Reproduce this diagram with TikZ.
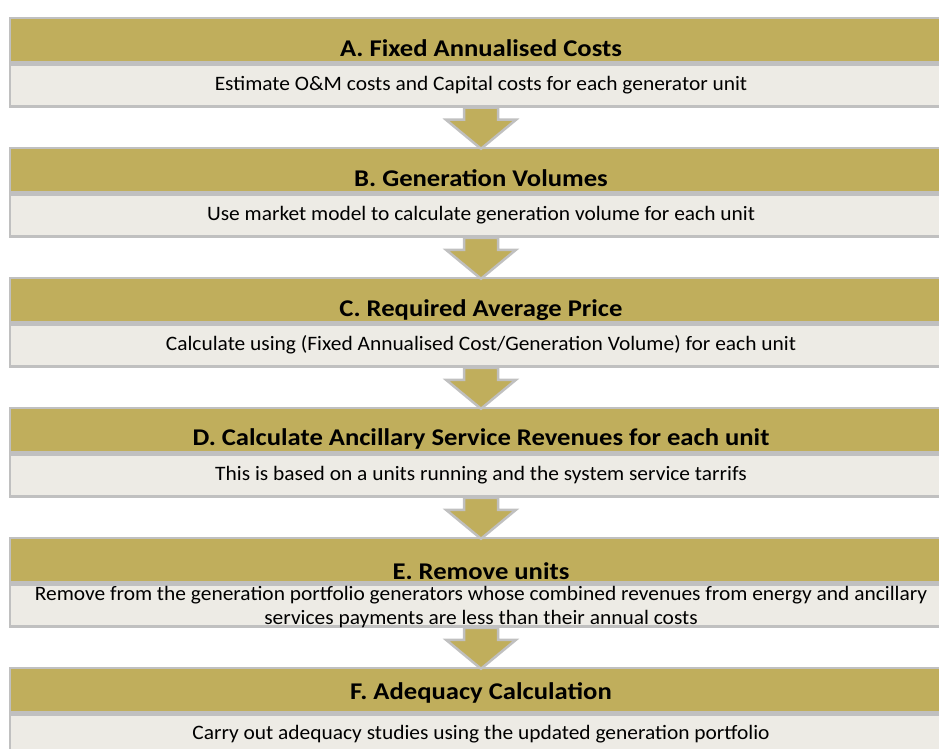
\documentclass[tikz,border=0pt]{standalone}
\usepackage{fontspec}
\setmainfont{Carlito}
\newfontfamily\titlefont[FakeStretch=1.11]{Carlito}
\newfontfamily\descfont[FakeStretch=1.045]{Carlito}
\usepackage{tikz}
\usepackage{xcolor}
\usetikzlibrary{positioning, calc}

\definecolor{bandgold}{RGB}{192,174,92}
\definecolor{bodygrey}{RGB}{237,235,229}
\definecolor{edgegrey}{RGB}{192,192,192}

\tikzset{
  head/.style={draw=edgegrey, line width=2.5pt, fill=bandgold, minimum width=942pt, minimum height=44pt, inner sep=0pt},
  body/.style={draw=edgegrey, line width=2.5pt, fill=bodygrey, minimum width=942pt, minimum height=42pt, inner sep=0pt},
  title/.style={anchor=base, inner sep=0pt, font=\titlefont\fontsize{24}{28}\selectfont\bfseries},
  desc/.style={anchor=base, inner sep=0pt, align=center, font=\descfont\fontsize{20.5}{24}\selectfont},
  flow/.style={draw=edgegrey, line width=2.5pt, fill=bandgold, line join=miter}
}

\begin{document}
\begin{tikzpicture}[x=1pt, y=-1pt]
\useasboundingbox (0,0) rectangle (939,749);

% A
\node[head] (hA) at (481,40) {};
\node[body, below=0pt of hA] (bA) {};
\node[title] (tA) at ($(hA.south)+(0,-7)$) {A. Fixed Annualised Costs};
\node[desc] (dA) at ($(hA.south)+(0,27)$) {Estimate O\&M costs and Capital costs for each generator unit};

% B
\node[head] (hB) at (481,170) {};
\node[body, below=0pt of hB] (bB) {};
\node[title] (tB) at ($(hB.south)+(0,-7)$) {B. Generation Volumes};
\node[desc] (dB) at ($(hB.south)+(0,27)$) {Use market model to calculate generation volume for each unit};

% C
\node[head] (hC) at (481,300) {};
\node[body, below=0pt of hC] (bC) {};
\node[title] (tC) at ($(hC.south)+(0,-7)$) {C. Required Average Price};
\node[desc] (dC) at ($(hC.south)+(0,27)$) {Calculate using (Fixed Annualised Cost/Generation Volume) for each unit};

% D
\node[head] (hD) at (481,430) {};
\node[body, below=0pt of hD] (bD) {};
\node[title] (tD) at ($(hD.south)+(0,-8)$) {D. Calculate Ancillary Service Revenues for each unit};
\node[desc] (dD) at ($(hD.south)+(0,27)$) {This is based on a units running and the system service tarrifs};

% E
\node[head] (hE) at (481,560) {};
\node[body, below=0pt of hE] (bE) {};
\node[title] (tE) at ($(hE.south)+(0,-4)$) {E. Remove units};
\node[desc, anchor=north] (dE) at ($(hE.south)+(0,3)$) {Remove from the generation portfolio generators whose combined revenues from energy and ancillary\\services payments are less than their annual costs};

% F
\node[head] (hF) at (481,690) {};
\node[body, below=0pt of hF] (bF) {};
\node[title] (tF) at ($(hF.south)+(0,-14)$) {F. Adequacy Calculation};
\node[desc] (dF) at ($(hF.south)+(0,26)$) {Carry out adequacy studies using the updated generation portfolio};

% arrows
\draw[flow] ($(bA.south)+(-17,0)$) -- ++(0,12) -- ++(-18,0) -- ($(hB.north)+(0,2)$) -- ($(bA.south)+(35,12)$) -- ++(-18,0) -- ++(0,-12) -- cycle;
\draw[flow] ($(bB.south)+(-17,0)$) -- ++(0,12) -- ++(-18,0) -- ($(hC.north)+(0,2)$) -- ($(bB.south)+(35,12)$) -- ++(-18,0) -- ++(0,-12) -- cycle;
\draw[flow] ($(bC.south)+(-17,0)$) -- ++(0,12) -- ++(-18,0) -- ($(hD.north)+(0,2)$) -- ($(bC.south)+(35,12)$) -- ++(-18,0) -- ++(0,-12) -- cycle;
\draw[flow] ($(bD.south)+(-17,0)$) -- ++(0,12) -- ++(-18,0) -- ($(hE.north)+(0,2)$) -- ($(bD.south)+(35,12)$) -- ++(-18,0) -- ++(0,-12) -- cycle;
\draw[flow] ($(bE.south)+(-17,0)$) -- ++(0,12) -- ++(-18,0) -- ($(hF.north)+(0,2)$) -- ($(bE.south)+(35,12)$) -- ++(-18,0) -- ++(0,-12) -- cycle;
\end{tikzpicture}
\end{document}
